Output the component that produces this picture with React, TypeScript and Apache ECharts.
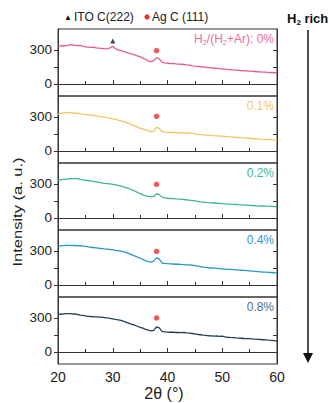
import React, { useEffect, useRef } from "react";
import * as echarts from "echarts";

const twoTheta = [
  20, 20.5, 21, 21.5, 22, 22.5, 23, 23.5, 24, 24.5, 25, 25.5, 26, 26.5, 27, 27.5, 28, 28.5, 29, 29.5,
  30, 30.5, 31, 31.5, 32, 32.5, 33, 33.5, 34, 34.5, 35, 35.5, 36, 36.5, 37, 37.5, 38, 38.5, 39, 39.5,
  40, 40.5, 41, 41.5, 42, 42.5, 43, 43.5, 44, 44.5, 45, 45.5, 46, 46.5, 47, 47.5, 48, 48.5, 49, 49.5,
  50, 50.5, 51, 51.5, 52, 52.5, 53, 53.5, 54, 54.5, 55, 55.5, 56, 56.5, 57, 57.5, 58, 58.5, 59, 59.5, 60,
];

const h2_0 = [
  332, 335, 338, 336, 343, 347, 342, 339, 340, 333, 328, 326, 323, 324, 318, 316, 314, 311, 310, 318,
  332, 310, 300, 294, 286, 279, 270, 264, 256, 248, 240, 228, 216, 204, 196, 208, 232, 222, 190, 186,
  183, 180, 181, 177, 176, 174, 172, 168, 166, 160, 157, 155, 152, 150, 148, 145, 142, 141, 138, 135,
  132, 131, 128, 127, 124, 122, 120, 118, 116, 115, 113, 111, 110, 108, 107, 104, 104, 101, 102, 99, 100,
];
const h2_01 = [
  326, 332, 336, 339, 338, 336, 334, 333, 328, 326, 322, 320, 316, 313, 310, 306, 303, 299, 294, 290,
  284, 278, 272, 265, 258, 250, 241, 232, 222, 212, 202, 193, 186, 178, 172, 174, 208, 200, 172, 166,
  165, 163, 164, 161, 162, 160, 160, 158, 159, 155, 152, 148, 145, 142, 140, 139, 137, 135, 134, 132,
  131, 129, 127, 125, 123, 121, 119, 117, 115, 114, 112, 110, 108, 106, 104, 103, 101, 100, 99, 98, 97,
];
const h2_02 = [
  332, 336, 340, 342, 344, 348, 347, 350, 341, 336, 333, 330, 326, 322, 318, 314, 310, 306, 303, 300,
  296, 292, 287, 281, 275, 266, 258, 248, 238, 226, 214, 204, 196, 190, 186, 190, 214, 206, 184, 178,
  174, 172, 170, 168, 167, 166, 163, 160, 157, 154, 150, 146, 142, 140, 137, 136, 134, 132, 130, 128,
  126, 125, 123, 122, 120, 119, 117, 116, 114, 113, 111, 110, 108, 107, 105, 106, 104, 103, 103, 101, 102,
];
const h2_04 = [
  341, 345, 348, 349, 350, 348, 350, 347, 346, 343, 340, 336, 333, 330, 327, 324, 321, 318, 316, 313,
  311, 306, 303, 299, 294, 285, 276, 266, 256, 246, 236, 226, 214, 206, 202, 210, 241, 228, 194, 190,
  188, 187, 185, 183, 184, 181, 180, 177, 178, 174, 170, 166, 162, 158, 155, 152, 150, 148, 146, 144,
  142, 140, 138, 137, 135, 133, 131, 130, 128, 126, 124, 122, 120, 118, 116, 114, 113, 111, 110, 108, 107,
];
const h2_08 = [
  329, 333, 336, 338, 339, 337, 335, 331, 326, 322, 318, 314, 313, 309, 310, 307, 308, 304, 300, 297,
  293, 288, 284, 278, 270, 262, 253, 243, 236, 227, 218, 210, 200, 192, 186, 190, 222, 212, 182, 178,
  176, 174, 175, 172, 172, 170, 172, 168, 166, 163, 160, 156, 152, 148, 146, 143, 142, 140, 141, 138,
  139, 134, 130, 128, 127, 124, 122, 121, 119, 118, 117, 115, 114, 112, 110, 108, 106, 104, 103, 100, 96,
];

const seriesValues = [h2_0, h2_01, h2_02, h2_04, h2_08];
const ratioLabels = ["0%", "0.1%", "0.2%", "0.4%", "0.8%"];
const agPeakPos = [38, 38, 38, 38, 38];
const agMarkerY = [294, 306, 297, 296, 300];
const itoPeakPos = 30;
const itoMarkerY = 380;
const xTicks = [20, 30, 40, 50, 60];
const yTickLabels = [0, 300];
const yTicks = [0, 150, 300];

const lineColors = ["#EC5A86", "#F5C465", "#3BB592", "#2A97C9", "#1E3E56"];
const labelColors = ["#F06D95", "#F7C66E", "#3DBB98", "#2E9BCF", "#4F6E8C"];

const FONT = "'Liberation Sans', Arial, sans-serif";
const TOPS = [29, 96, 163, 230, 297];
const H = 67;
const LEFT = 58;
const W = 219;

export default function App() {
  const ref = useRef<HTMLDivElement>(null);
  useEffect(() => {
    if (!ref.current) return;
    const chart = echarts.init(ref.current, null, { renderer: "svg" });
    const grids: any[] = [];
    const xAxes: any[] = [];
    const yAxes: any[] = [];
    const series: any[] = [];
    const graphics: any[] = [];
    seriesValues.forEach((vals, i) => {
      grids.push({
        left: LEFT,
        top: TOPS[i],
        width: W,
        height: H,
        show: true,
        borderColor: "#333",
        borderWidth: 1,
        backgroundColor: "transparent",
      });
      xAxes.push({
        type: "value",
        gridIndex: i,
        min: xTicks[0],
        max: xTicks[xTicks.length - 1],
        interval: 10,
        axisLine: { show: true, lineStyle: { color: "#333", width: 1 } },
        axisTick: { show: true, inside: true, length: 4, lineStyle: { color: "#333" } },
        minorTick: { show: true, splitNumber: 2, length: 3, lineStyle: { color: "#333" } },
        axisLabel: {
          show: i === seriesValues.length - 1,
          fontSize: 14,
          color: "#222",
          fontFamily: FONT,
          margin: 6,
        },
        splitLine: { show: false },
      });
      yAxes.push({
        type: "value",
        gridIndex: i,
        min: -106,
        max: 485,
        axisLine: { show: true, lineStyle: { color: "#333", width: 1 } },
        axisTick: { show: true, inside: false, length: 4, customValues: yTicks, lineStyle: { color: "#333" } },
        axisLabel: { show: true, customValues: yTickLabels, fontSize: 13.5, color: "#222", fontFamily: FONT, margin: 6 },
        splitLine: { show: false },
      });
      yAxes.push({
        type: "value",
        gridIndex: i,
        position: "right",
        min: -106,
        max: 485,
        axisLine: { show: true, lineStyle: { color: "#333", width: 1 } },
        axisTick: { show: true, inside: true, length: 4, customValues: yTicks, lineStyle: { color: "#333" } },
        axisLabel: { show: false },
        splitLine: { show: false },
      });
      series.push({
        type: "line",
        xAxisIndex: i,
        yAxisIndex: i * 2,
        showSymbol: false,
        data: twoTheta.map((x, k) => [x, vals[k]]),
        lineStyle: { color: lineColors[i], width: 1.3 },
        itemStyle: { color: lineColors[i] },
        z: 3,
      });
      series.push({
        type: "scatter",
        xAxisIndex: i,
        yAxisIndex: i * 2,
        symbol: "circle",
        symbolSize: 5.5,
        itemStyle: { color: "#F0302C" },
        data: [[agPeakPos[i], agMarkerY[i]]],
        z: 4,
      });
      if (i === 0) {
        series.push({
          type: "scatter",
          xAxisIndex: i,
          yAxisIndex: i * 2,
          symbol: "triangle",
          symbolSize: 5,
          itemStyle: { color: "#111" },
          data: [[itoPeakPos, itoMarkerY]],
          z: 4,
        });
      }
      const txt =
        i === 0
          ? "{a|H}{s|2}{a|/(H}{s|2}{a|+Ar): " + ratioLabels[i] + "}"
          : "{a|" + ratioLabels[i] + "}";
      graphics.push({
        type: "text",
        right: 329 - 274,
        top: TOPS[i] + 4,
        z: 10,
        style: {
          text: txt,
          fill: labelColors[i],
          font: "12px " + FONT,
          rich: {
            a: { fontSize: 12, fontFamily: FONT, fill: labelColors[i], lineHeight: 15, verticalAlign: "middle" },
            s: { fontSize: 7.5, fontFamily: FONT, fill: labelColors[i], lineHeight: 15, verticalAlign: "bottom" },
          },
        },
      });
    });

    graphics.push(
      { type: "text", x: 64, y: 17, style: { text: "▲", font: "8px " + FONT, fill: "#111", textVerticalAlign: "middle" } },
      { type: "text", x: 74, y: 17, style: { text: "ITO C(222)", font: "12px " + FONT, fill: "#222", textVerticalAlign: "middle" } },
      { type: "circle", shape: { cx: 147, cy: 17, r: 2.6 }, style: { fill: "#F0302C" } },
      { type: "text", x: 152, y: 17, style: { text: "Ag C (111)", font: "12px " + FONT, fill: "#222", textVerticalAlign: "middle" } },
      {
        type: "text",
        x: 287,
        y: 10,
        style: {
          text: "{b|H}{c|2}{b| rich}",
          rich: {
            b: { fontSize: 13, fontWeight: "bold", fontFamily: FONT, fill: "#111", lineHeight: 16, verticalAlign: "middle" },
            c: { fontSize: 8, fontWeight: "bold", fontFamily: FONT, fill: "#111", lineHeight: 16, verticalAlign: "bottom" },
          },
        },
      },
      { type: "line", shape: { x1: 308, y1: 30, x2: 308, y2: 354 }, style: { stroke: "#111", lineWidth: 1.5 } },
      { type: "polygon", shape: { points: [[303, 353], [313, 353], [308, 363]] }, style: { fill: "#111" } },
      {
        type: "text",
        x: 17,
        y: 212,
        rotation: Math.PI / 2,
        scaleY: 0.8,
        style: { text: "Intensity (a. u.)", font: "16.5px " + FONT, fill: "#222", textAlign: "center", textVerticalAlign: "middle" },
      },
      {
        type: "text",
        x: 164,
        y: 393,
        style: { text: "2θ (°)", font: "16px " + FONT, fill: "#222", textAlign: "center", textVerticalAlign: "middle" },
      }
    );

    chart.setOption({
      animation: false,
      backgroundColor: "#fff",
      grid: grids,
      xAxis: xAxes,
      yAxis: yAxes,
      series,
      graphic: graphics,
    });
    return () => chart.dispose();
  }, []);
  return <div ref={ref} style={{ position: "fixed", left: 0, top: 0, width: 329, height: 403 }} />;
}
